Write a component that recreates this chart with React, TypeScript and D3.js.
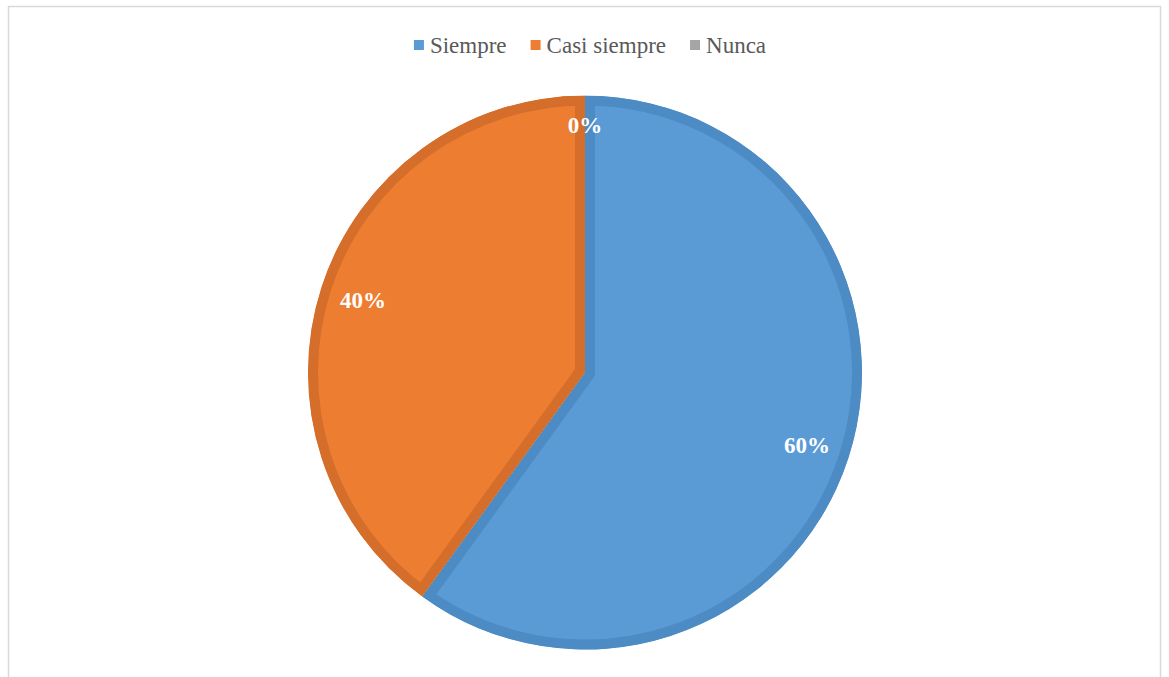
import React, { useEffect, useRef } from "react";
import * as d3 from "d3";

const categories = ["Siempre", "Casi siempre", "Nunca"];
const values = [60, 40, 0];
const labels = ["60%", "40%", "0%"];
const fills = ["#5B9BD5", "#ED7D31", "#A5A5A5"];
const strokes = ["#4C8BC4", "#D46E2A", "#939393"];

const W = 1169;
const H = 677;
const FONT = "Times New Roman, Liberation Serif, DejaVu Serif, serif";

export default function App() {
  const ref = useRef<SVGSVGElement | null>(null);

  useEffect(() => {
    const svg = d3.select(ref.current);
    svg.selectAll("*").remove();

    svg.append("rect")
      .attr("x", 8.5).attr("y", 6.5)
      .attr("width", 1152).attr("height", 720)
      .attr("fill", "#fff").attr("stroke", "#D9D9D9").attr("stroke-width", 1.5);

    const cx = 585, cy = 372.5, r = 277;
    const pie = d3.pie<number>().sort(null).value((d) => d);
    const arcs = pie(values);
    const arc = d3.arc<d3.PieArcDatum<number>>().innerRadius(0).outerRadius(r);
    const g = svg.append("g").attr("transform", `translate(${cx},${cy})`);
    const defs = svg.append("defs");

    arcs.forEach((a, i) => {
      if (a.endAngle - a.startAngle <= 0) return;
      const id = `clip-${i}`;
      defs.append("clipPath").attr("id", id).append("path").attr("d", arc(a) as string);
      g.append("path")
        .attr("d", arc(a) as string)
        .attr("fill", fills[i])
        .attr("stroke", strokes[i])
        .attr("stroke-width", 20)
        .attr("stroke-linejoin", "miter")
        .attr("clip-path", `url(#${id})`);
    });

    arcs.forEach((a, i) => {
      const mid = (a.startAngle + a.endAngle) / 2;
      const rho = values[i] === 0 ? 0.895 * r : 0.843 * r;
      const x = rho * Math.sin(mid);
      const y = -rho * Math.cos(mid);
      g.append("text")
        .attr("x", x).attr("y", y + 8)
        .attr("text-anchor", "middle")
        .style("font-family", FONT)
        .style("font-weight", "bold")
        .style("font-size", "23px")
        .attr("fill", "#fff")
        .text(labels[i]);
    });

    // legend
    const lg = svg.append("g");
    let xPos = 0;
    const items: { g: any; w: number }[] = [];
    categories.forEach((c, i) => {
      const it = lg.append("g");
      it.append("rect").attr("x", 0).attr("y", -13).attr("width", 10).attr("height", 10).attr("fill", fills[i]);
      const t = it.append("text")
        .attr("x", 16).attr("y", 0)
        .style("font-family", FONT).style("font-size", "23px")
        .attr("fill", "#595959").text(c);
      const tw = (t.node() as SVGTextElement).getComputedTextLength();
      items.push({ g: it, w: 16 + tw });
    });
    const gap = 24;
    const total = items.reduce((s, d) => s + d.w, 0) + gap * (items.length - 1);
    xPos = cx + 5 - total / 2;
    items.forEach((d) => {
      d.g.attr("transform", `translate(${xPos},53)`);
      xPos += d.w + gap;
    });
  }, []);

  return (
    <svg
      ref={ref}
      width={W}
      height={H}
      style={{ position: "absolute", left: 0, top: 0, display: "block" }}
    />
  );
}
